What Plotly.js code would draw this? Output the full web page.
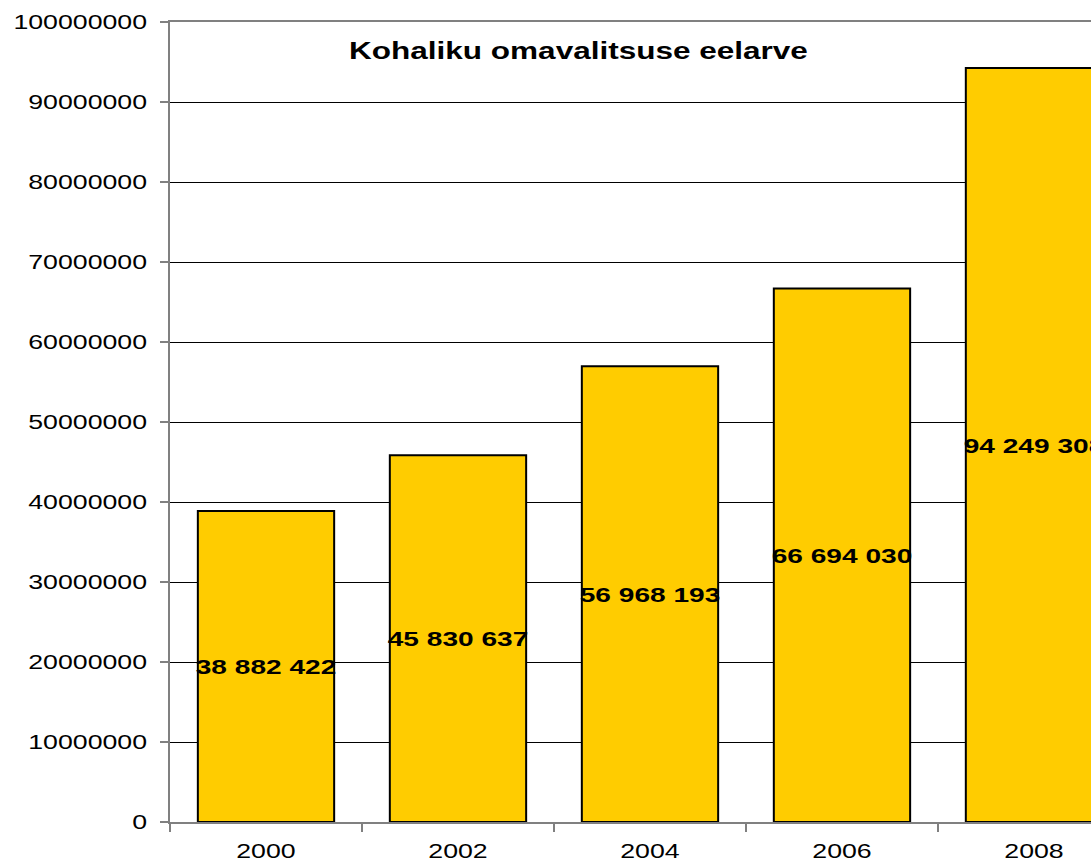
<!DOCTYPE html>
<html>
<head>
<meta charset="utf-8">
<script src="https://cdn.plot.ly/plotly-3.0.1.min.js"></script>
<style>html,body{margin:0;padding:0;background:#fff;}#chart{width:1091px;height:864px;}</style>
</head>
<body>
<div id="chart"></div>
<script>
var years = ['2000', '2002', '2004', '2006', '2008'];
var budget = [38882422, 45830637, 56968193, 66694030, 94249308];
var yTicks = [0, 10000000, 20000000, 30000000, 40000000, 50000000, 60000000, 70000000, 80000000, 90000000, 100000000];
var chartTitle = 'Kohaliku omavalitsuse eelarve';

function spaced(n) {
  return String(n).replace(/\B(?=(\d{3})+(?!\d))/g, ' ');
}

var FONT = 'Liberation Sans, Arial, sans-serif';

var trace = {
  type: 'bar',
  x: years,
  y: budget,
  width: 0.71,
  marker: {color: '#FFCC00', line: {color: '#000000', width: 2}},
  text: budget.map(spaced),
  textposition: 'inside',
  insidetextanchor: 'middle',
  textangle: 0,
  constraintext: 'none',
  textfont: {family: FONT, size: 20.5, color: '#000000', weight: 'bold'},
  hoverinfo: 'none'
};

var layout = {
  width: 1091,
  height: 864,
  margin: {l: 170, r: 0, t: 22, b: 42, pad: 0},
  paper_bgcolor: '#ffffff',
  plot_bgcolor: '#ffffff',
  showlegend: false,
  font: {family: FONT, size: 19.5, color: '#000000'},
  xaxis: {
    type: 'category',
    range: [-0.5, 4.297],
    showline: true,
    linecolor: '#808080',
    linewidth: 2,
    mirror: true,
    ticks: 'outside',
    tickson: 'boundaries',
    ticklen: 8,
    tickwidth: 2,
    tickcolor: '#808080',
    showgrid: false,
    zeroline: false,
    tickfont: {size: 19.5, color: '#000000'},
    ticklabelstandoff: 11,
    fixedrange: true
  },
  yaxis: {
    range: [0, 100000000],
    tickmode: 'array',
    tickvals: yTicks,
    ticktext: yTicks.map(String),
    showline: true,
    linecolor: '#808080',
    linewidth: 2,
    ticks: 'outside',
    ticklen: 8,
    tickwidth: 2,
    tickcolor: '#808080',
    showgrid: true,
    gridcolor: '#000000',
    gridwidth: 1,
    zeroline: false,
    tickfont: {size: 19.5, color: '#000000'},
    ticklabelstandoff: 9,
    fixedrange: true
  },
  annotations: [{
    text: '<b>' + chartTitle + '</b>',
    xref: 'paper', yref: 'paper',
    x: 0.444, y: 0.964,
    xanchor: 'center', yanchor: 'middle',
    showarrow: false,
    font: {family: FONT, size: 23, color: '#000000'}
  }]
};

function stretchText(gd, s) {
  var els = gd.querySelectorAll('.xtick text, .ytick text, text.bartext, text.annotation-text');
  els.forEach(function (el) {
    var bb = el.getBBox();
    var anchor = el.getAttribute('text-anchor') || window.getComputedStyle(el).textAnchor;
    var ax = bb.x + bb.width / 2;
    if (anchor === 'end') ax = bb.x + bb.width;
    else if (anchor === 'start') ax = bb.x;
    var t = el.getAttribute('transform') || '';
    el.setAttribute('transform', t + ' translate(' + ax + ',0) scale(' + s + ',1) translate(' + (-ax) + ',0)');
  });
}

Plotly.newPlot('chart', [trace], layout, {displayModeBar: false, staticPlot: true}).then(function (gd) {
  stretchText(gd, 1.37);
});
</script>
</body>
</html>
